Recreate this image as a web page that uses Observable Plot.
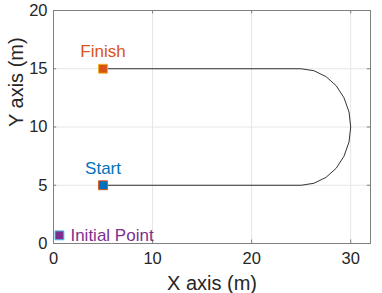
<!DOCTYPE html>
<html><head><meta charset="utf-8">
<script src="https://cdn.jsdelivr.net/npm/d3@7"></script>
<script src="https://cdn.jsdelivr.net/npm/@observablehq/plot@0.6"></script>
<style>body{margin:0;background:#fff;} svg{font-family:"Liberation Sans",Arial,sans-serif;}</style>
</head><body><div id="chart"></div>
<script>
// Path: straight leg, semicircular turn, straight leg back
const pathX = [5, 25, 26.29, 27.5, 28.54, 29.33, 29.83, 30, 29.83, 29.33, 28.54, 27.5, 26.29, 25, 5];
const pathY = [5, 5, 5.17, 5.67, 6.46, 7.5, 8.71, 10, 11.29, 12.5, 13.54, 14.33, 14.83, 15, 15];
const markerNames = ["Initial Point", "Start", "Finish"];
const markerX = [0.6, 5, 5];
const markerY = [0.7, 5, 15];
const markerFill = ["#7E2F8E", "#0072BD", "#D95319"];
const markerEdge = ["#4DBEEE", "#D95319", "#EDB120"];
const xTicks = [0, 10, 20, 30];
const yTicks = [0, 5, 10, 15, 20];

const path = pathX.map((x, i) => ({x, y: pathY[i]}));
const markers = markerNames.map((n, i) => ({name: n, x: markerX[i], y: markerY[i], fill: markerFill[i], edge: markerEdge[i]}));
const init = markers.filter(d => d.name === "Initial Point");
const others = markers.filter(d => d.name !== "Initial Point");

const chart = Plot.plot({
  width: 382, height: 293,
  marginLeft: 53, marginRight: 12, marginTop: 10, marginBottom: 50,
  style: {fontSize: "16.5px", fontFamily: "Liberation Sans, Arial, sans-serif", color: "#262626"},
  x: {domain: [0, 32], ticks: xTicks, tickSize: 0, tickPadding: 9, label: null},
  y: {domain: [0, 20], ticks: yTicks, tickSize: 0, tickPadding: 6, label: null},
  marks: [
    Plot.gridX(xTicks, {stroke: "#e6e6e6", strokeOpacity: 1}),
    Plot.gridY(yTicks, {stroke: "#e6e6e6", strokeOpacity: 1}),
    Plot.frame({stroke: "#808080"}),
    Plot.ruleX(xTicks, {y1: 0, y2: 0.3, stroke: "#808080"}),
    Plot.ruleX(xTicks, {y1: 20, y2: 19.7, stroke: "#808080"}),
    Plot.ruleY(yTicks, {x1: 0, x2: 0.32, stroke: "#808080"}),
    Plot.ruleY(yTicks, {x1: 32, x2: 31.68, stroke: "#808080"}),
    Plot.line(path, {x: "x", y: "y", stroke: "#000", strokeWidth: 0.8}),
    Plot.dot(markers, {x: "x", y: "y", symbol: "square", r: 5, fill: d => d.fill, stroke: d => d.edge, strokeWidth: 1}),
    Plot.text(others, {x: "x", y: "y", text: "name", dy: -17, fill: d => d.fill, fontSize: 17}),
    Plot.text(init, {x: "x", y: "y", text: "name", dx: 11, textAnchor: "start", fill: d => d.fill, fontSize: 17}),
    Plot.text(["X axis (m)"], {frameAnchor: "bottom", lineAnchor: "middle", dy: 40, text: d => d, fontSize: 20, fill: "#262626"}),
    Plot.text(["Y axis (m)"], {frameAnchor: "left", lineAnchor: "middle", dx: -37, rotate: -90, text: d => d, fontSize: 20, fill: "#262626"})
  ]
});
document.getElementById("chart").appendChild(chart);
</script>
</body></html>
